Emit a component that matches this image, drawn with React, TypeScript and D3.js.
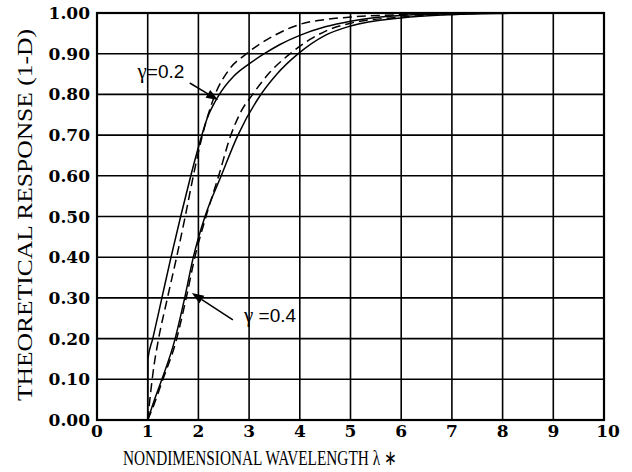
import React, { useEffect, useRef } from 'react';
import * as d3 from 'd3';

// curves: [lambda, response]
const gamma02Solid = [
  [1, 0], [1.005, 0.15], [1.1, 0.2], [1.28, 0.3], [1.46, 0.4], [1.65, 0.5], [1.85, 0.6],
  [2.0, 0.67], [2.17, 0.74], [2.39, 0.795], [2.7, 0.845], [3.0, 0.875], [3.3, 0.9],
  [3.6, 0.922], [4, 0.945], [4.5, 0.966], [5, 0.98], [5.5, 0.989], [6, 0.994],
  [7, 0.998], [8, 1.0], [10, 1.0],
];
const gamma02Dashed = [
  [1, 0], [1.06, 0.07], [1.12, 0.13], [1.2, 0.19], [1.39, 0.3], [1.57, 0.4], [1.74, 0.5],
  [1.9, 0.6], [2.08, 0.7], [2.33, 0.8], [2.6, 0.86], [2.95, 0.9], [3.5, 0.945],
  [4, 0.972], [4.5, 0.984], [5, 0.99], [6, 0.996], [7, 0.999], [8, 1.0], [10, 1.0],
];
const gamma04Solid = [
  [1, 0], [1.12, 0.045], [1.28, 0.1], [1.52, 0.19], [1.73, 0.3], [1.9, 0.4], [2.13, 0.5],
  [2.45, 0.6], [2.78, 0.7], [3.18, 0.79], [3.55, 0.85], [3.97, 0.9], [4.5, 0.945],
  [5, 0.968], [6, 0.988], [7, 0.996], [8, 0.999], [9, 1.0], [10, 1.0],
];
const gamma04Dashed = [
  [1, 0], [1.1, 0.03], [1.3, 0.1], [1.55, 0.19], [1.76, 0.3], [1.93, 0.4], [2.15, 0.5],
  [2.4, 0.6], [2.64, 0.7], [2.85, 0.76], [3.07, 0.8], [3.4, 0.853], [3.81, 0.9],
  [4.2, 0.935], [4.5, 0.955], [5, 0.975], [6, 0.99], [7, 0.997], [8, 1.0], [10, 1.0],
];

const xTicks = [0, 1, 2, 3, 4, 5, 6, 7, 8, 9, 10];
const yTicks = [0, 0.1, 0.2, 0.3, 0.4, 0.5, 0.6, 0.7, 0.8, 0.9, 1.0];

// label text, label anchor, arrow tail, arrow tip (data units)
const annotations = [
  { label: '=0.2', at: [0.8, 0.84], from: [1.83, 0.828], to: [2.39, 0.786] },
  { label: ' =0.4', at: [2.9, 0.241], from: [2.68, 0.246], to: [1.87, 0.312] },
];

const Chart = () => {
  const ref = useRef<SVGSVGElement>(null);

  useEffect(() => {
    const width = 632;
    const height = 472;
    const left = 97, right = 604, top = 13, bottom = 420;

    const svg = d3.select(ref.current).attr('width', width).attr('height', height);
    svg.selectAll('*').remove();

    const x = d3.scaleLinear().domain([0, 10]).range([left, right]);
    const y = d3.scaleLinear().domain([0, 1]).range([bottom, top]);

    // grid
    const grid = svg.append('g').attr('stroke', '#000').attr('stroke-width', 1.6);
    grid.selectAll('.vg').data(xTicks.slice(1, -1)).enter().append('line')
      .attr('x1', (d) => x(d)).attr('x2', (d) => x(d))
      .attr('y1', top).attr('y2', bottom);
    grid.selectAll('.hg').data(yTicks.slice(1, -1)).enter().append('line')
      .attr('y1', (d) => y(d)).attr('y2', (d) => y(d))
      .attr('x1', left).attr('x2', right);

    svg.append('rect')
      .attr('x', left).attr('y', top)
      .attr('width', right - left).attr('height', bottom - top)
      .attr('fill', 'none').attr('stroke', '#000').attr('stroke-width', 2.2);

    // curves
    const line = d3.line<number[]>()
      .x((d) => x(d[0]))
      .y((d) => y(d[1]))
      .curve(d3.curveMonotoneX);

    const series = [
      { pts: gamma02Solid, dash: null },
      { pts: gamma02Dashed, dash: '9,5' },
      { pts: gamma04Solid, dash: null },
      { pts: gamma04Dashed, dash: '9,5' },
    ];
    series.forEach((s) => {
      svg.append('path')
        .attr('d', line(s.pts))
        .attr('fill', 'none')
        .attr('stroke', '#000')
        .attr('stroke-width', 1.5)
        .attr('stroke-dasharray', s.dash);
    });

    // tick labels
    svg.append('g').selectAll('text').data(yTicks).enter().append('text')
      .attr('x', left - 7)
      .attr('y', (d) => y(d) + 6)
      .attr('text-anchor', 'end')
      .attr('font-family', 'DejaVu Serif')
      .attr('font-weight', 'bold')
      .attr('font-size', 17)
      .text((d) => d.toFixed(2));

    svg.append('g').selectAll('text').data(xTicks).enter().append('text')
      .attr('x', (d) => x(d) + (d === 10 ? 4 : 0))
      .attr('y', bottom + 17)
      .attr('text-anchor', 'middle')
      .attr('font-family', 'DejaVu Serif')
      .attr('font-weight', 'bold')
      .attr('font-size', 17)
      .text((d) => d);

    // axis titles
    svg.append('text')
      .attr('x', 123).attr('y', 465)
      .attr('font-family', 'Liberation Serif')
      .attr('font-size', 21)
      .attr('textLength', 274)
      .attr('lengthAdjust', 'spacingAndGlyphs')
      .text('NONDIMENSIONAL WAVELENGTH λ ∗');

    svg.append('text')
      .attr('transform', 'translate(32,401) rotate(-90)')
      .attr('font-family', 'Liberation Serif')
      .attr('font-size', 21)
      .attr('textLength', 372)
      .attr('lengthAdjust', 'spacingAndGlyphs')
      .text('THEORETICAL RESPONSE (1-D)');

    // annotations with arrows
    annotations.forEach((a) => {
      const t = svg.append('text')
        .attr('x', x(a.at[0])).attr('y', y(a.at[1]));
      t.append('tspan').attr('font-family', 'Liberation Serif').attr('font-size', 21).text('γ');
      t.append('tspan').attr('font-family', 'Liberation Sans Narrow, Liberation Sans')
        .attr('font-size', 19).text(a.label);

      const x1 = x(a.from[0]), y1 = y(a.from[1]);
      const x2 = x(a.to[0]), y2 = y(a.to[1]);
      const ang = Math.atan2(y2 - y1, x2 - x1);
      const len = 12, half = 4.5;
      const bx = x2 - len * Math.cos(ang), by = y2 - len * Math.sin(ang);
      svg.append('line')
        .attr('x1', x1).attr('y1', y1).attr('x2', bx).attr('y2', by)
        .attr('stroke', '#000').attr('stroke-width', 1.5);
      svg.append('path')
        .attr('d', d3.line()([
          [x2, y2],
          [bx + half * Math.sin(ang), by - half * Math.cos(ang)],
          [bx - half * Math.sin(ang), by + half * Math.cos(ang)],
        ]) + 'Z')
        .attr('fill', '#000');
    });
  }, []);

  return <svg ref={ref} style={{ position: 'absolute', left: 0, top: 0, background: '#fff' }} />;
};

const App = () => <Chart />;

export default App;
